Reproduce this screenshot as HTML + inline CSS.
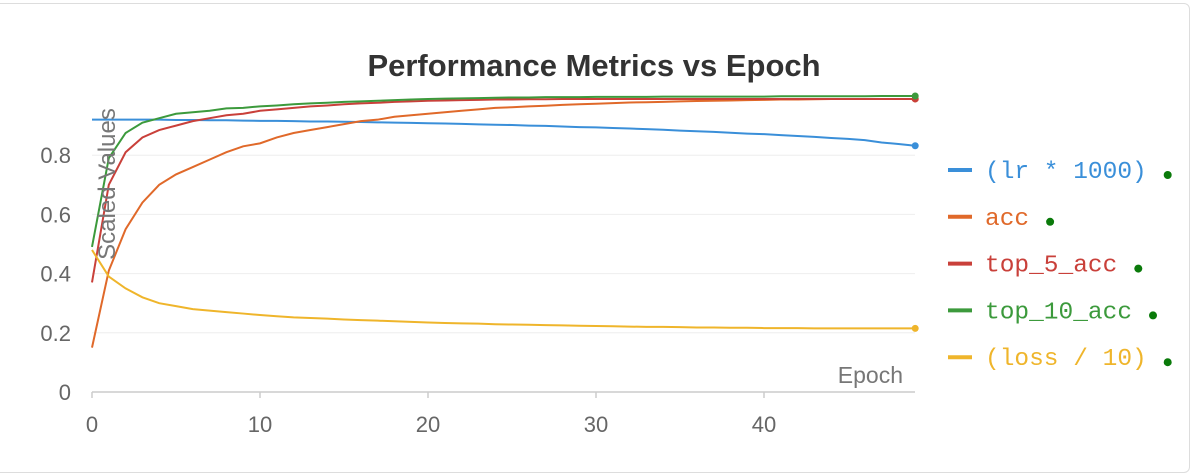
<!DOCTYPE html>
<html><head><meta charset="utf-8"><style>
body{margin:0;background:#fff;width:1193px;height:451px;overflow:hidden;font-family:"Liberation Sans",sans-serif}
#card{position:absolute;left:-10px;top:3px;width:1200px;height:470px;border:1px solid #ddd;border-radius:6px;box-sizing:border-box}
</style></head><body>
<div id="card"></div>
<svg id="chart" width="1193" height="451" style="position:absolute;left:0;top:0"></svg>
<script>
const epochs=[...Array(50).keys()];
const lrVals=[0.92,0.92,0.92,0.92,0.92,0.919,0.919,0.918,0.918,0.917,0.916,0.916,0.915,0.914,0.914,0.913,0.912,0.911,0.91,0.909,0.908,0.907,0.906,0.904,0.903,0.902,0.9,0.899,0.897,0.895,0.894,0.892,0.89,0.888,0.886,0.883,0.881,0.879,0.876,0.873,0.871,0.868,0.865,0.862,0.858,0.855,0.851,0.843,0.838,0.832];
const accVals=[0.15,0.41,0.55,0.64,0.70,0.735,0.76,0.785,0.81,0.83,0.84,0.86,0.875,0.885,0.895,0.905,0.915,0.92,0.93,0.935,0.94,0.945,0.95,0.955,0.96,0.962,0.965,0.967,0.97,0.972,0.974,0.976,0.978,0.979,0.98,0.982,0.983,0.984,0.985,0.986,0.987,0.988,0.988,0.989,0.99,0.99,0.99,0.99,0.99,0.99];
const top5Vals=[0.37,0.70,0.81,0.86,0.885,0.90,0.915,0.925,0.935,0.94,0.95,0.955,0.96,0.965,0.968,0.972,0.975,0.977,0.98,0.982,0.984,0.985,0.986,0.987,0.988,0.988,0.989,0.989,0.99,0.99,0.99,0.99,0.99,0.99,0.99,0.99,0.99,0.99,0.99,0.99,0.99,0.99,0.99,0.99,0.99,0.99,0.99,0.99,0.99,0.99];
const top10Vals=[0.49,0.79,0.875,0.91,0.925,0.94,0.945,0.95,0.958,0.96,0.965,0.968,0.972,0.975,0.977,0.98,0.982,0.984,0.986,0.988,0.99,0.991,0.992,0.993,0.994,0.995,0.995,0.996,0.996,0.996,0.997,0.997,0.997,0.997,0.998,0.998,0.998,0.998,0.998,0.998,0.998,0.999,0.999,0.999,0.999,0.999,0.999,1.0,1.0,1.0];
const lossVals=[0.48,0.39,0.35,0.32,0.30,0.29,0.28,0.275,0.27,0.265,0.26,0.256,0.252,0.25,0.248,0.245,0.243,0.241,0.239,0.237,0.235,0.233,0.232,0.231,0.229,0.228,0.227,0.226,0.225,0.224,0.223,0.222,0.221,0.22,0.22,0.219,0.218,0.218,0.217,0.217,0.216,0.216,0.216,0.215,0.215,0.215,0.215,0.215,0.215,0.215];
const seriesNames=["(lr * 1000)","acc","top_5_acc","top_10_acc","(loss / 10)"];
const seriesKeys=["lr","acc","top-5-acc","top-10-acc","loss"];
const seriesData=[lrVals,accVals,top5Vals,top10Vals,lossVals];
const colors=["#3a8fd9","#e0692a","#c9403a","#3c9a3c","#efb52b"];
const xTicks=[0,10,20,30,40];
const yTicks=[0,0.2,0.4,0.6,0.8];
const yTickLabels=["0","0.2","0.4","0.6","0.8"];

const svg=document.getElementById('chart');
const NS="http://www.w3.org/2000/svg";
const X=e=>92+e*16.8;
const Y=v=>392-v*296;
function mk(tag,attrs,parent){const el=document.createElementNS(NS,tag);for(const k in attrs)el.setAttribute(k,attrs[k]);(parent||svg).appendChild(el);return el;}

yTicks.forEach((t,i)=>{
  if(t>0){const g=mk('line',{x1:92,x2:915,y1:Y(t),y2:Y(t),stroke:'#eee','stroke-width':1});
  
  }
  const l=mk('text',{x:71,y:Y(t)+8,'text-anchor':'end','font-size':22,fill:'#666'});
  l.textContent=yTickLabels[i];
  
  
});
const ax=mk('line',{x1:92,x2:915,y1:392,y2:392,stroke:'#ccc','stroke-width':1.5});


xTicks.forEach(t=>{
  const tk=mk('line',{x1:X(t),x2:X(t),y1:392,y2:398,stroke:'#ccc','stroke-width':1.5});
  
  
  const l=mk('text',{x:X(t),y:432,'text-anchor':'middle','font-size':22,fill:'#666'});
  l.textContent=t;
  
  
});
seriesData.forEach((d,i)=>{
  const p=mk('polyline',{points:d.map((v,e)=>X(epochs[e])+','+Y(v)).join(' '),fill:'none',stroke:colors[i],'stroke-width':2});
  
  
  const last=d.length-1;
  const c=mk('circle',{cx:X(epochs[last]),cy:Y(d[last]),r:3.5,fill:colors[i]});
  
  
});
const t=mk('text',{x:594,y:76,'text-anchor':'middle','font-size':31,'font-weight':'bold',fill:'#333'});
t.textContent='Performance Metrics vs Epoch';


const yt=mk('text',{x:0,y:0,'text-anchor':'middle','font-size':24,fill:'#777',transform:'translate(115,184) rotate(-90)'});
yt.textContent='Scaled Values';


const xt=mk('text',{x:903,y:383,'text-anchor':'end','font-size':23,fill:'#777'});
xt.textContent='Epoch';


seriesNames.forEach((n,i)=>{
  const y=170+i*46.8;
  const g=mk('g',{});
  
  
  mk('line',{x1:948,x2:972,y1:y,y2:y,stroke:colors[i],'stroke-width':4},g);
  const tx=mk('text',{x:985,y:y+8,'font-size':24.5,fill:colors[i],'font-family':'Liberation Mono, monospace'},g);
  tx.textContent=n;
  const w=n.length*14.7;
  mk('circle',{cx:985+w+21,cy:y+5,r:4,fill:'#0a7a0a'},g);
});
</script>
</body></html>
